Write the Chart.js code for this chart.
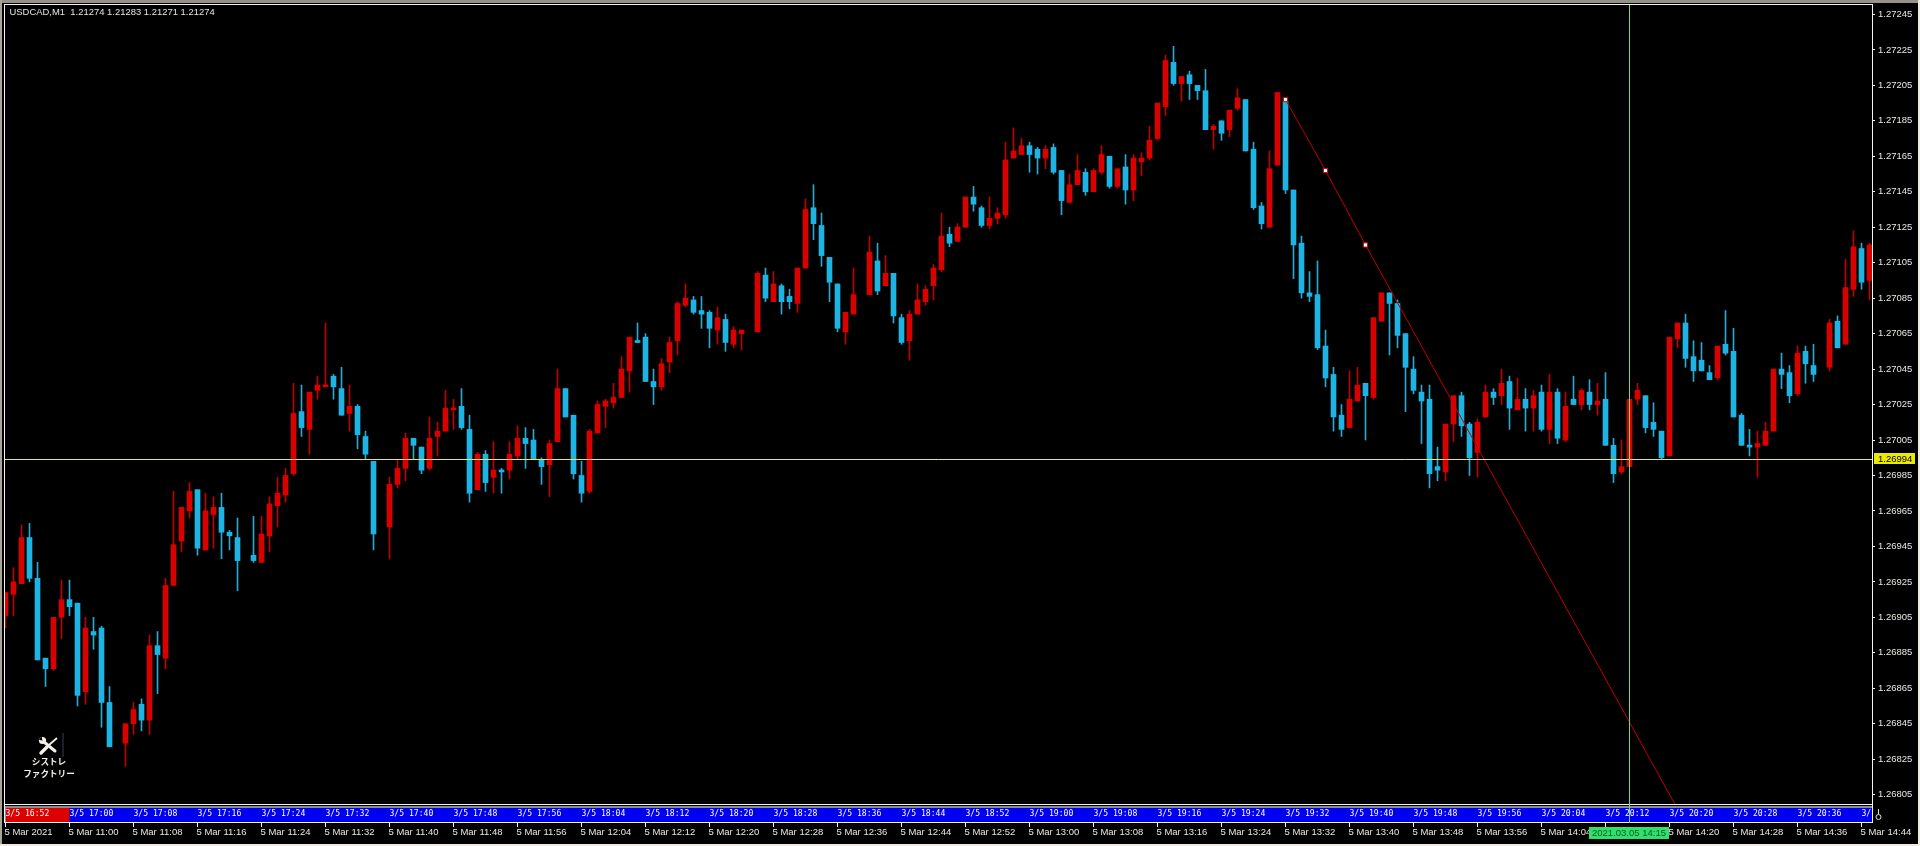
<!DOCTYPE html>
<html><head><meta charset="utf-8"><title>USDCAD,M1</title>
<style>html,body{margin:0;padding:0;background:#000;overflow:hidden}canvas{display:block}</style>
<script src="https://cdn.jsdelivr.net/npm/chart.js@4"></script></head><body>
<canvas id="c" width="1920" height="846" style="width:1920px;height:846px"></canvas>
<script>
const open=[
1.26906,1.26918,1.26924,1.26950,1.26927,1.26882,1.26876,1.26905,1.26915,1.26913,
1.26863,1.26897,1.26899,1.26857,null,1.26834,1.26845,1.26856,1.26847,1.26889,
1.26882,1.26923,1.26948,1.26965,1.26977,1.26943,1.26963,1.26967,1.26953,1.26950,
null,1.26940,1.26936,1.26951,1.26968,1.26974,1.26986,1.27021,1.27011,1.27033,
1.27035,1.27041,1.27034,1.27020,1.27024,1.27007,1.26993,null,1.26956,1.26980,
1.26989,1.27006,1.27001,1.26989,1.27007,1.27010,1.27022,1.27024,1.27011,1.26977,
1.26997,1.26984,1.26988,1.26988,1.26996,1.27006,1.27005,1.26994,1.26991,1.27004,
1.27034,1.27019,1.26985,1.26976,1.27009,1.27024,1.27026,1.27029,1.27044,1.27061,
1.27063,1.27038,1.27035,1.27049,1.27061,1.27081,1.27084,1.27078,1.27077,1.27067,
1.27073,1.27059,1.27065,null,1.27066,1.27098,1.27083,1.27092,1.27086,1.27082,
1.27102,1.27136,1.27126,1.27108,1.27093,1.27066,1.27076,null,1.27087,1.27106,
1.27092,1.27099,1.27074,1.27061,1.27076,1.27083,1.27092,1.27101,1.27121,1.27117,
1.27125,1.27142,1.27136,1.27126,1.27130,1.27132,1.27164,1.27166,1.27171,1.27169,
1.27164,1.27170,1.27157,1.27139,1.27149,1.27156,1.27145,1.27156,1.27165,1.27148,
1.27159,1.27146,1.27162,1.27164,1.27175,1.27193,1.27218,1.27206,1.27211,1.27205,
1.27202,1.27180,1.27185,1.27180,1.27192,1.27197,1.27169,1.27137,1.27125,1.27160,
1.27196,1.27146,1.27116,1.27088,1.27087,1.27058,1.27042,1.27019,1.27012,1.27027,
1.27037,1.27029,1.27072,1.27088,1.27082,1.27065,1.27045,1.27032,1.27028,1.26990,
1.26987,1.27014,1.27030,1.27014,1.26998,1.27018,1.27032,1.27030,1.27038,1.27022,
1.27028,1.27023,1.27032,1.27011,1.27032,1.27005,1.27028,1.27025,1.27032,1.27025,
1.27028,1.27002,1.26987,1.26990,1.27028,1.27030,1.27015,1.27010,1.26996,1.27062,
1.27071,1.27052,1.27050,1.27043,1.27040,1.27059,1.27055,1.27019,1.27002,1.27001,
1.27002,1.27010,1.27045,1.27043,1.27031,1.27055,1.27047,null,1.27046,1.27072,
1.27059,1.27090,1.27113,1.27095];
const close=[
1.26919,1.26925,1.26950,1.26927,1.26881,1.26876,1.26905,1.26915,1.26911,1.26861,
1.26899,1.26895,1.26857,1.26832,null,1.26845,1.26853,1.26847,1.26889,1.26884,
1.26923,1.26946,1.26967,1.26976,1.26944,1.26965,1.26967,1.26953,1.26951,1.26937,
null,1.26937,1.26952,1.26969,1.26975,1.26985,1.27020,1.27012,1.27032,1.27036,
1.27036,1.27035,1.27019,1.27024,1.27008,1.26997,1.26952,null,1.26980,1.26989,
1.27006,1.27002,1.26988,1.27006,1.27010,1.27023,1.27023,1.27012,1.26975,1.26997,
1.26981,1.26988,1.26987,1.26997,1.27006,1.27003,1.26994,1.26990,1.27003,1.27034,
1.27018,1.26986,1.26975,1.27010,1.27025,1.27027,1.27029,1.27045,1.27063,1.27060,
1.27038,1.27035,1.27048,1.27060,1.27082,1.27085,1.27077,1.27076,1.27068,1.27074,
1.27060,1.27067,1.27067,null,1.27099,1.27085,1.27093,1.27083,1.27083,1.27102,
1.27135,1.27127,1.27109,1.27094,1.27068,1.27077,1.27087,null,1.27111,1.27089,
1.27099,1.27075,1.27060,1.27076,1.27084,1.27090,1.27102,1.27120,1.27116,1.27125,
1.27142,1.27138,1.27126,1.27130,1.27133,1.27163,1.27168,1.27171,1.27166,1.27164,
1.27169,1.27156,1.27140,1.27149,1.27157,1.27145,1.27157,1.27166,1.27148,1.27158,
1.27146,1.27164,1.27164,1.27174,1.27195,1.27219,1.27206,1.27210,1.27206,1.27202,
1.27180,1.27182,1.27178,1.27191,1.27198,1.27168,1.27136,1.27127,1.27158,1.27201,
1.27146,1.27115,1.27088,1.27086,1.27057,1.27040,1.27018,1.27011,1.27028,1.27036,
1.27030,1.27074,1.27088,1.27082,1.27064,1.27046,1.27033,1.27027,1.26986,1.26988,
1.27014,1.27030,1.27013,1.26995,1.27015,1.27032,1.27029,1.27037,1.27023,1.27028,
1.27023,1.27030,1.27011,1.27032,1.27006,1.27024,1.27025,1.27033,1.27025,1.27027,
1.27002,1.26986,1.26990,1.27028,1.27033,1.27012,1.27011,1.26995,1.27063,1.27071,
1.27051,1.27044,1.27044,1.27039,1.27058,1.27054,1.27018,1.27002,1.27001,1.27003,
1.27010,1.27045,1.27042,1.27030,1.27054,1.27048,1.27042,null,1.27071,1.27057,
1.27091,1.27114,1.27094,1.27115];
const high=[
1.26919,1.26933,1.26957,1.26958,1.26936,1.26882,1.26905,1.26926,1.26926,1.26913,
1.26905,1.26905,1.26900,1.26866,null,1.26845,1.26857,1.26859,1.26895,1.26897,
1.26927,1.26976,1.26967,1.26981,1.26977,1.26975,1.26973,1.26975,1.26954,1.26961,
null,1.26962,1.26962,1.26973,1.26984,1.26989,1.27037,1.27036,1.27032,1.27041,
1.27071,1.27042,1.27046,1.27036,1.27025,1.27010,1.26993,null,1.26984,1.26994,
1.27009,1.27006,1.27001,1.27018,1.27015,1.27033,1.27028,1.27034,1.27019,1.26998,
1.26999,1.27004,1.26989,1.27004,1.27013,1.27012,1.27011,1.26995,1.27005,1.27045,
1.27034,1.27019,1.26993,1.27011,1.27027,1.27028,1.27037,1.27052,1.27063,1.27071,
1.27065,1.27045,1.27051,1.27063,1.27083,1.27093,1.27086,1.27086,1.27078,1.27080,
1.27076,1.27069,1.27067,null,1.27100,1.27102,1.27100,1.27093,1.27090,1.27102,
1.27141,1.27149,1.27133,1.27108,1.27093,1.27077,1.27102,null,1.27120,1.27116,
1.27109,1.27099,1.27076,1.27078,1.27093,1.27092,1.27104,1.27133,1.27125,1.27127,
1.27142,1.27148,1.27137,1.27142,1.27136,1.27173,1.27181,1.27175,1.27173,1.27170,
1.27171,1.27172,1.27157,1.27155,1.27166,1.27158,1.27158,1.27171,1.27165,1.27158,
1.27166,1.27166,1.27167,1.27182,1.27195,1.27222,1.27227,1.27210,1.27213,1.27205,
1.27214,1.27183,1.27185,1.27191,1.27203,1.27197,1.27173,1.27139,1.27168,1.27201,
1.27196,1.27146,1.27120,1.27100,1.27106,1.27067,1.27046,1.27025,1.27044,1.27046,
1.27037,1.27074,1.27088,1.27088,1.27084,1.27065,1.27052,1.27036,1.27036,1.27001,
1.27014,1.27030,1.27032,1.27015,1.27017,1.27036,1.27034,1.27045,1.27041,1.27040,
1.27034,1.27033,1.27036,1.27042,1.27034,1.27032,1.27041,1.27034,1.27039,1.27037,
1.27043,1.27006,1.27005,1.27028,1.27037,1.27030,1.27026,1.27010,1.27063,1.27071,
1.27076,1.27061,1.27060,1.27047,1.27058,1.27078,1.27068,1.27020,1.27011,1.27010,
1.27015,1.27045,1.27054,1.27047,1.27058,1.27058,1.27059,null,1.27073,1.27075,
1.27107,1.27123,1.27116,1.27116];
const low=[
1.26899,1.26906,1.26924,1.26925,1.26881,1.26866,1.26875,1.26893,1.26906,1.26855,
1.26856,1.26887,1.26843,1.26832,null,1.26821,1.26839,1.26841,1.26839,1.26862,
1.26876,1.26923,1.26942,1.26961,1.26940,1.26943,1.26944,1.26938,1.26943,1.26920,
null,1.26936,1.26936,1.26942,1.26956,1.26970,1.26985,1.27007,1.26997,1.27028,
1.27035,1.27028,1.27019,1.27010,1.27000,1.26994,1.26943,null,1.26938,1.26978,
1.26982,1.26994,1.26986,1.26988,1.26996,1.27010,1.27011,1.27011,1.26970,1.26977,
1.26976,1.26975,1.26975,1.26983,1.26994,1.26989,1.26994,1.26980,1.26973,1.27004,
1.27018,1.26983,1.26970,1.26975,1.27009,1.27012,1.27023,1.27029,1.27032,1.27060,
1.27038,1.27025,1.27033,1.27043,1.27053,1.27080,1.27076,1.27068,1.27057,1.27059,
1.27055,1.27057,1.27056,null,1.27066,1.27083,1.27083,1.27076,1.27079,1.27077,
1.27102,1.27118,1.27103,1.27083,1.27066,1.27059,1.27076,null,1.27087,1.27087,
1.27092,1.27071,1.27059,1.27050,1.27076,1.27081,1.27084,1.27100,1.27114,1.27117,
1.27125,1.27134,1.27125,1.27124,1.27127,1.27130,1.27164,1.27166,1.27156,1.27155,
1.27158,1.27155,1.27132,1.27139,1.27149,1.27143,1.27145,1.27155,1.27147,1.27147,
1.27138,1.27140,1.27154,1.27163,1.27174,1.27188,1.27205,1.27196,1.27197,1.27197,
1.27180,1.27169,1.27174,1.27176,1.27191,1.27168,1.27135,1.27124,1.27125,1.27160,
1.27144,1.27096,1.27085,1.27083,1.27056,1.27035,1.27010,1.27007,1.27012,1.27027,
1.27005,1.27028,1.27072,1.27053,1.27057,1.27021,1.27031,1.27003,1.26978,1.26982,
1.26982,1.27004,1.27007,1.26985,1.26984,1.27018,1.27025,1.27025,1.27011,1.27022,
1.27010,1.27010,1.27010,1.27003,1.27003,1.27004,1.27025,1.27022,1.27022,1.27019,
1.27002,1.26981,1.26986,1.26990,1.27025,1.27009,1.27007,1.26994,1.26996,1.27057,
1.27046,1.27038,1.27044,1.27039,1.27039,1.27053,1.27018,1.27002,1.26996,1.26984,
1.27002,1.27010,1.27034,1.27026,1.27030,1.27037,1.27038,null,1.27044,1.27057,
1.27059,1.27086,1.27090,1.27084];

const priceTicks=[1.27245,1.27225,1.27205,1.27185,1.27165,1.27145,1.27125,1.27105,1.27085,1.27065,1.27045,1.27025,1.27005,1.26985,1.26965,1.26945,1.26925,1.26905,1.26885,1.26865,1.26845,1.26825,1.26805];
const timeTicks=[0,8,16,24,32,40,48,56,64,72,80,88,96,104,112,120,128,136,144,152,160,168,176,184,192,200,208,216,224,232];
const bottomLabels=['5 Mar 2021','5 Mar 11:00','5 Mar 11:08','5 Mar 11:16','5 Mar 11:24','5 Mar 11:32','5 Mar 11:40','5 Mar 11:48','5 Mar 11:56','5 Mar 12:04','5 Mar 12:12','5 Mar 12:20','5 Mar 12:28','5 Mar 12:36','5 Mar 12:44','5 Mar 12:52','5 Mar 13:00','5 Mar 13:08','5 Mar 13:16','5 Mar 13:24','5 Mar 13:32','5 Mar 13:40','5 Mar 13:48','5 Mar 13:56','5 Mar 14:04','5 Mar 14:12','5 Mar 14:20','5 Mar 14:28','5 Mar 14:36','5 Mar 14:44'];
const stripLabels=['3/5 16:52','3/5 17:00','3/5 17:08','3/5 17:16','3/5 17:24','3/5 17:32','3/5 17:40','3/5 17:48','3/5 17:56','3/5 18:04','3/5 18:12','3/5 18:20','3/5 18:28','3/5 18:36','3/5 18:44','3/5 18:52','3/5 19:00','3/5 19:08','3/5 19:16','3/5 19:24','3/5 19:32','3/5 19:40','3/5 19:48','3/5 19:56','3/5 20:04','3/5 20:12','3/5 20:20','3/5 20:28','3/5 20:36','3/'];
const headerText='USDCAD,M1  1.21274 1.21283 1.21271 1.21274';
const currentPrice=1.26994;
const crossIndex=203;
const crossLabel='2021.03.05 14:15';
const trendIndex=[160,165,170,215];
const trendPrice=[1.27197,1.27157,1.27115,1.26748];

const RED='#d90000',BLUE='#1fb3e3',RED_W='#bf0000',BLUE_W='#2ca6d2';
const xMin=-0.0625,xMax=233.3125,yMin=1.2679974,yMax=1.2725032;
const slots=open.map((o,i)=>i).filter(i=>open[i]!==null);
const noPad=s=>{s.paddingTop=0;s.paddingBottom=0;s.paddingLeft=0;s.paddingRight=0};

const chromePlugin={id:'chrome',
 beforeDraw(ch){const c=ch.ctx;c.save();
  c.fillStyle='#000';c.fillRect(0,0,1920,846);
  c.fillStyle='#96928a';c.fillRect(0,0,1920,3);
  c.fillStyle='#a8a499';c.fillRect(0,0,2,846);
  c.fillStyle='#efeadf';c.fillRect(0,844,1920,2);c.fillRect(1918,0,2,846);
  c.fillStyle='#8c8c8c';c.fillRect(5,806,1867,2);
  c.fillStyle='#0000f0';c.fillRect(5,808,1867,14);
  const sx=ch.scales.x.getPixelForValue(8);
  c.fillStyle='#dd0000';c.fillRect(5,808,sx-5,14);
  c.fillStyle='#8c8c8c';c.fillRect(5,808,1,14);
  c.fillStyle='#f2f2f2';c.fillRect(4,822,1869,1);c.fillRect(1872,805,1,18);c.fillRect(4,805,1,18);
  c.strokeStyle='#f4f4f4';c.lineWidth=1;c.strokeRect(4.5,4.5,1868,800);
  c.restore();},
 afterDraw(ch){const c=ch.ctx,xs=ch.scales.x,ys=ch.scales.y;c.save();
  c.textBaseline='middle';
  c.fillStyle='#e4e4e0';c.font='9.45px "Liberation Sans"';c.textAlign='left';c.fillText(headerText,9.5,12.5);
  const cx=xs.getPixelForValue(crossIndex);
  c.strokeStyle='#6fdc80';c.lineWidth=1;c.beginPath();c.moveTo(cx,5);c.lineTo(cx,823);c.stroke();
  c.fillStyle='#2fe06a';c.fillRect(1589,827,80,12);
  c.fillStyle='#0a5a28';c.font='9.5px "Liberation Sans"';c.textAlign='center';c.fillText(crossLabel,1629,833.5);
  const py=Math.floor(ys.getPixelForValue(currentPrice));
  c.fillStyle='#eaea00';c.fillRect(1874,py-6,41,11);
  c.fillStyle='#000';c.font='9.5px "Liberation Sans"';c.textAlign='left';c.fillText(currentPrice.toFixed(5),1878,py);
  c.strokeStyle='#dcdcdc';c.lineWidth=1;c.beginPath();c.moveTo(1878.5,809);c.lineTo(1878.5,814);c.stroke();
  c.beginPath();c.arc(1878.5,817,2.5,0,Math.PI*2);c.stroke();
  c.fillStyle='#1b2025';c.fillRect(62,733,2,24);
  c.strokeStyle='#f3f0e6';c.fillStyle='#f3f0e6';c.lineCap='round';
  c.lineWidth=3;c.beginPath();c.moveTo(44,742);c.lineTo(55,751);c.stroke();
  c.beginPath();c.arc(42.5,740.5,3.6,0,Math.PI*2);c.fill();
  c.fillStyle='#000';c.beginPath();c.moveTo(38.5,739.5);c.lineTo(42.5,740.8);c.lineTo(41.5,736.5);c.closePath();c.fill();
  c.lineCap='butt';
  c.lineWidth=1.8;c.beginPath();c.moveTo(57,738);c.lineTo(49,745);c.stroke();
  c.lineCap='round';c.lineWidth=3.4;c.beginPath();c.moveTo(47,747);c.lineTo(41,753);c.stroke();
  c.fillStyle='#f3f0e6';c.font='bold 8.6px "Noto Sans CJK JP"';c.textAlign='center';
  c.fillText('シストレ',49,762);c.fillText('ファクトリー',49,774);
  c.restore();}
};

new Chart(document.getElementById('c'),{
 type:'bar',
 data:{datasets:[
  {type:'line',order:0,data:[{x:xMin,y:currentPrice},{x:xMax,y:currentPrice}],borderColor:'#eaea50',borderWidth:1,pointRadius:0,xAxisID:'x',yAxisID:'y'},
  {type:'line',order:0.5,data:trendIndex.map((x,i)=>({x,y:trendPrice[i]})),borderColor:'#c00000',borderWidth:1,
   pointStyle:'rect',pointRadius:[3,3,3,0],pointBackgroundColor:'#ffffff',pointBorderColor:'#c80000',pointBorderWidth:1,xAxisID:'x',yAxisID:'y'},
  {order:1,barThickness:5,minBarLength:2,data:slots.map(i=>({x:i,y:[open[i],close[i]]})),
   backgroundColor:slots.map(i=>close[i]>=open[i]?RED:BLUE),borderWidth:0,xAxisID:'x',yAxisID:'y'},
  {order:2,barThickness:1,data:slots.map(i=>({x:i,y:[low[i],high[i]]})),
   backgroundColor:slots.map(i=>close[i]>=open[i]?RED_W:BLUE_W),borderWidth:0,xAxisID:'x',yAxisID:'y'}
 ]},
 plugins:[chromePlugin],
 options:{responsive:false,animation:false,devicePixelRatio:1,
  events:[],
  datasets:{bar:{grouped:false}},
  layout:{padding:{left:5,top:5,right:0,bottom:0}},
  plugins:{legend:{display:false},tooltip:{enabled:false},title:{display:false}},
  scales:{
   xStrip:{type:'linear',axis:'x',position:'bottom',weight:0,min:xMin,max:xMax,offset:false,
    afterBuildTicks:s=>{s.ticks=timeTicks.map(v=>({value:v}))},
    afterFit:s=>{s.height=19;noPad(s)},
    border:{display:false},grid:{display:false,drawTicks:false,offset:false},
    ticks:{align:'start',autoSkip:false,maxRotation:0,minRotation:0,padding:5,color:'#ffffff',
     font:{family:'"DejaVu Sans Mono"',size:8.1},callback:(v,i)=>stripLabels[i]}},
   x:{type:'linear',position:'bottom',weight:1,min:xMin,max:xMax,offset:false,
    afterBuildTicks:s=>{s.ticks=timeTicks.map(v=>({value:v}))},
    afterFit:s=>{s.height=23;noPad(s)},
    border:{display:false},grid:{drawOnChartArea:false,drawTicks:true,tickLength:4,color:'#f0f0f0',offset:false},
    ticks:{align:'start',autoSkip:false,maxRotation:0,minRotation:0,padding:0,labelOffset:-1,color:'#e8e8e2',
     font:{family:'"Liberation Sans"',size:9.5},callback:(v,i)=>bottomLabels[i]}},
   y:{type:'linear',position:'right',min:yMin,max:yMax,beginAtZero:false,
    afterBuildTicks:s=>{s.ticks=priceTicks.map(v=>({value:v}))},
    afterFit:s=>{s.width=48;noPad(s)},
    border:{display:false},grid:{drawOnChartArea:false,drawTicks:true,tickLength:3,color:'#f0f0f0'},
    ticks:{autoSkip:false,padding:3,color:'#e8e8e2',font:{family:'"Liberation Sans"',size:9.5},
     callback:v=>v.toFixed(5)}}
  }
 }
});
</script></body></html>
